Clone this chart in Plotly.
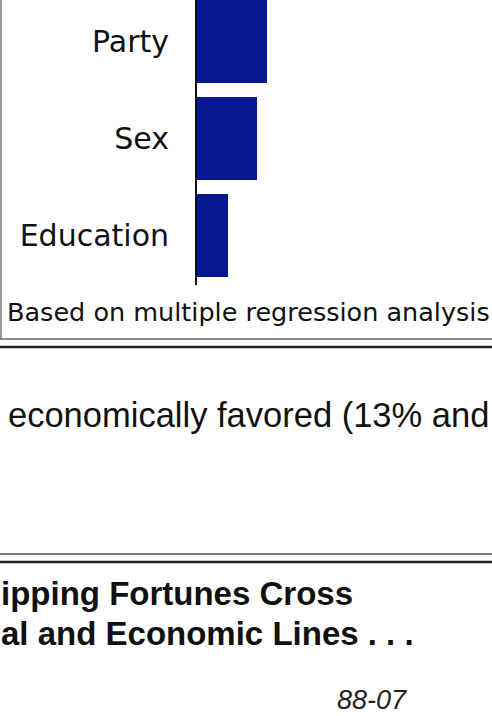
import plotly.graph_objects as go

W, H = 492, 716

# ---- data ----
factors = ["Party", "Sex", "Education"]
weights = [0.35, 0.30, 0.155]          # relative importance
factor_order = ["Education", "Sex", "Party"]

caption = "Based on multiple regression analysis"
body_text = "economically favored (13% and"
head_line1 = "ipping Fortunes Cross"
head_line2 = "al and Economic Lines . . ."
page_code = "88-07"

BAR = "#071892"

def px(x):
    return x / W

def py(y):
    return 1 - y / H

fig = go.Figure()
fig.add_trace(go.Bar(
    y=factors, x=weights, orientation="h",
    marker=dict(color=BAR, line=dict(width=0)),
    showlegend=False, hoverinfo="skip",
))

fig.update_layout(
    width=W, height=H,
    margin=dict(l=0, r=0, t=0, b=0),
    paper_bgcolor="white", plot_bgcolor="white",
    bargap=0.144,
    xaxis=dict(domain=[px(197), 1], range=[0, 1.475], visible=False,
               fixedrange=True),
    yaxis=dict(domain=[py(285), 1], range=[-0.51, 2.428],
               categoryorder="array", categoryarray=factor_order,
               showline=True, linecolor="#111111", linewidth=2,
               showgrid=False, zeroline=False, ticks="",
               ticklabelstandoff=20,
               tickfont=dict(family="DejaVu Sans", size=30, color="#111111"),
               fixedrange=True),
)

shapes = []
# left frame line of the chart box
shapes.append(dict(type="line", xref="paper", yref="paper",
                   x0=px(1), x1=px(1), y0=py(0), y1=py(339),
                   line=dict(color="#777777", width=1.5)))
# box bottom line
shapes.append(dict(type="line", xref="paper", yref="paper",
                   x0=0, x1=1, y0=py(339), y1=py(339),
                   line=dict(color="#666666", width=1.5)))
# thick rule below
shapes.append(dict(type="line", xref="paper", yref="paper",
                   x0=0, x1=1, y0=py(347), y1=py(347),
                   line=dict(color="#222222", width=2.5)))
# double rule above headline
shapes.append(dict(type="line", xref="paper", yref="paper",
                   x0=0, x1=1, y0=py(554), y1=py(554),
                   line=dict(color="#555555", width=1.5)))
shapes.append(dict(type="line", xref="paper", yref="paper",
                   x0=0, x1=1, y0=py(562), y1=py(562),
                   line=dict(color="#222222", width=2.5)))
fig.update_layout(shapes=shapes)

ann = []
ann.append(dict(text=caption, xref="paper", yref="paper", x=px(6), y=py(312),
                xanchor="left", yanchor="middle", showarrow=False, borderpad=0,
                font=dict(family="DejaVu Sans", size=25.5, color="#111111")))
ann.append(dict(text=body_text, xref="paper", yref="paper", x=px(7), y=py(415),
                xanchor="left", yanchor="middle", showarrow=False, borderpad=0,
                font=dict(family="Liberation Sans", size=34.5, color="#111111")))
ann.append(dict(text="<b>" + head_line1 + "</b>", xref="paper", yref="paper",
                x=px(0), y=py(593), xanchor="left", yanchor="middle",
                showarrow=False, borderpad=0,
                font=dict(family="Liberation Sans", size=33, color="#111111")))
ann.append(dict(text="<b>" + head_line2 + "</b>", xref="paper", yref="paper",
                x=px(0), y=py(633), xanchor="left", yanchor="middle",
                showarrow=False, borderpad=0,
                font=dict(family="Liberation Sans", size=33, color="#111111")))
ann.append(dict(text="<i>" + page_code + "</i>", xref="paper", yref="paper",
                x=px(336), y=py(700), xanchor="left", yanchor="middle",
                showarrow=False, borderpad=0,
                font=dict(family="Liberation Sans", size=27, color="#222222")))
fig.update_layout(annotations=ann)

fig.write_html(
    "out.html",
    config={"displayModeBar": False},
    post_script="document.body.style.margin='0';document.body.style.overflow='hidden';",
)
